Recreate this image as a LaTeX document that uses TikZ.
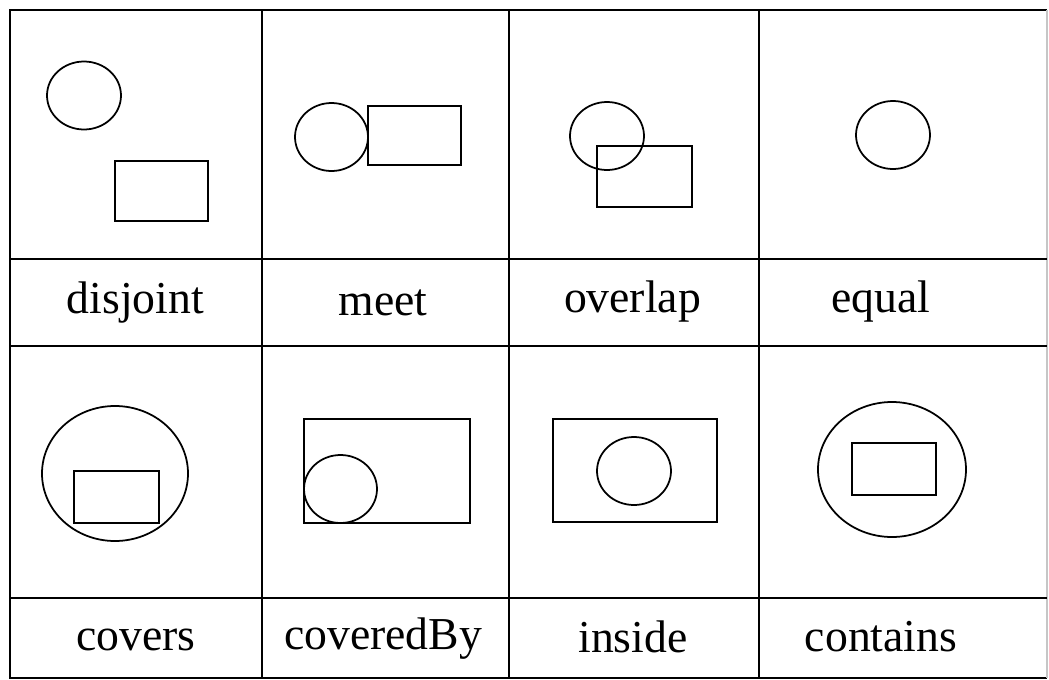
\documentclass[tikz,border=0pt]{standalone}
\usepackage{fontspec}
\setmainfont{Liberation Serif}
\tikzset{
  lbl/.style={font=\fontsize{26}{31}\selectfont, anchor=base, inner sep=0pt},
  grid line/.style={line width=1.1pt},
  shape line/.style={line width=1pt}
}
\begin{document}
\begin{tikzpicture}
\begin{scope}[x=0.02cm, y=-0.02cm]
  \useasboundingbox (0,0) rectangle (1049,680);

  % Table lines
  \draw[grid line] (1047,10) -- (10,10) -- (10,678) -- (1047,678);
  \draw[gray!45, line width=0.6pt] (1047,10) -- (1047,678);
  \foreach \y in {259,346,598}{
    \draw[grid line] (10,\y) -- (1047,\y);
  }
  \foreach \x in {262,509,759}{
    \draw[grid line] (\x,10) -- (\x,678);
  }

  % First row of pictures
  \draw[shape line] (84,95.5) ellipse [x radius=37, y radius=34];
  \draw[shape line] (115,161) rectangle (208,221);
  \draw[shape line] (331.5,137) ellipse [x radius=36.5, y radius=34];
  \draw[shape line] (368,106) rectangle (461,165);
  \draw[shape line] (607,136) ellipse [x radius=37, y radius=34];
  \draw[shape line] (597,146) rectangle (692,207);
  \draw[shape line] (893,135) ellipse [x radius=37, y radius=34];

  % Second row of pictures
  \draw[shape line] (115,473.5) ellipse [x radius=73, y radius=67.5];
  \draw[shape line] (74,471) rectangle (159,523);
  \draw[shape line] (304,419) rectangle (470,523);
  \draw[shape line] (340.5,489) ellipse [x radius=36.5, y radius=34];
  \draw[shape line] (553,419) rectangle (717,522);
  \draw[shape line] (634,471) ellipse [x radius=37, y radius=34];
  \draw[shape line] (892,469.5) ellipse [x radius=74, y radius=67.5];
  \draw[shape line] (852,443) rectangle (936,495);

  % Relation names
  \node[lbl] (disjoint)  at (135.5,313) {disjoint};
  \node[lbl] (meet)      at (383,315)   {meet};
  \node[lbl] (overlap)   at (632.5,312) {overlap};
  \node[lbl] (equal)     at (881,312)   {equal};
  \node[lbl] (covers)    at (136,650)   {covers};
  \node[lbl] (coveredby) at (383,649)   {coveredBy};
  \node[lbl] (inside)    at (633,652)   {inside};
  \node[lbl] (contains)  at (881,651)   {contains};
\end{scope}
\end{tikzpicture}
\end{document}
